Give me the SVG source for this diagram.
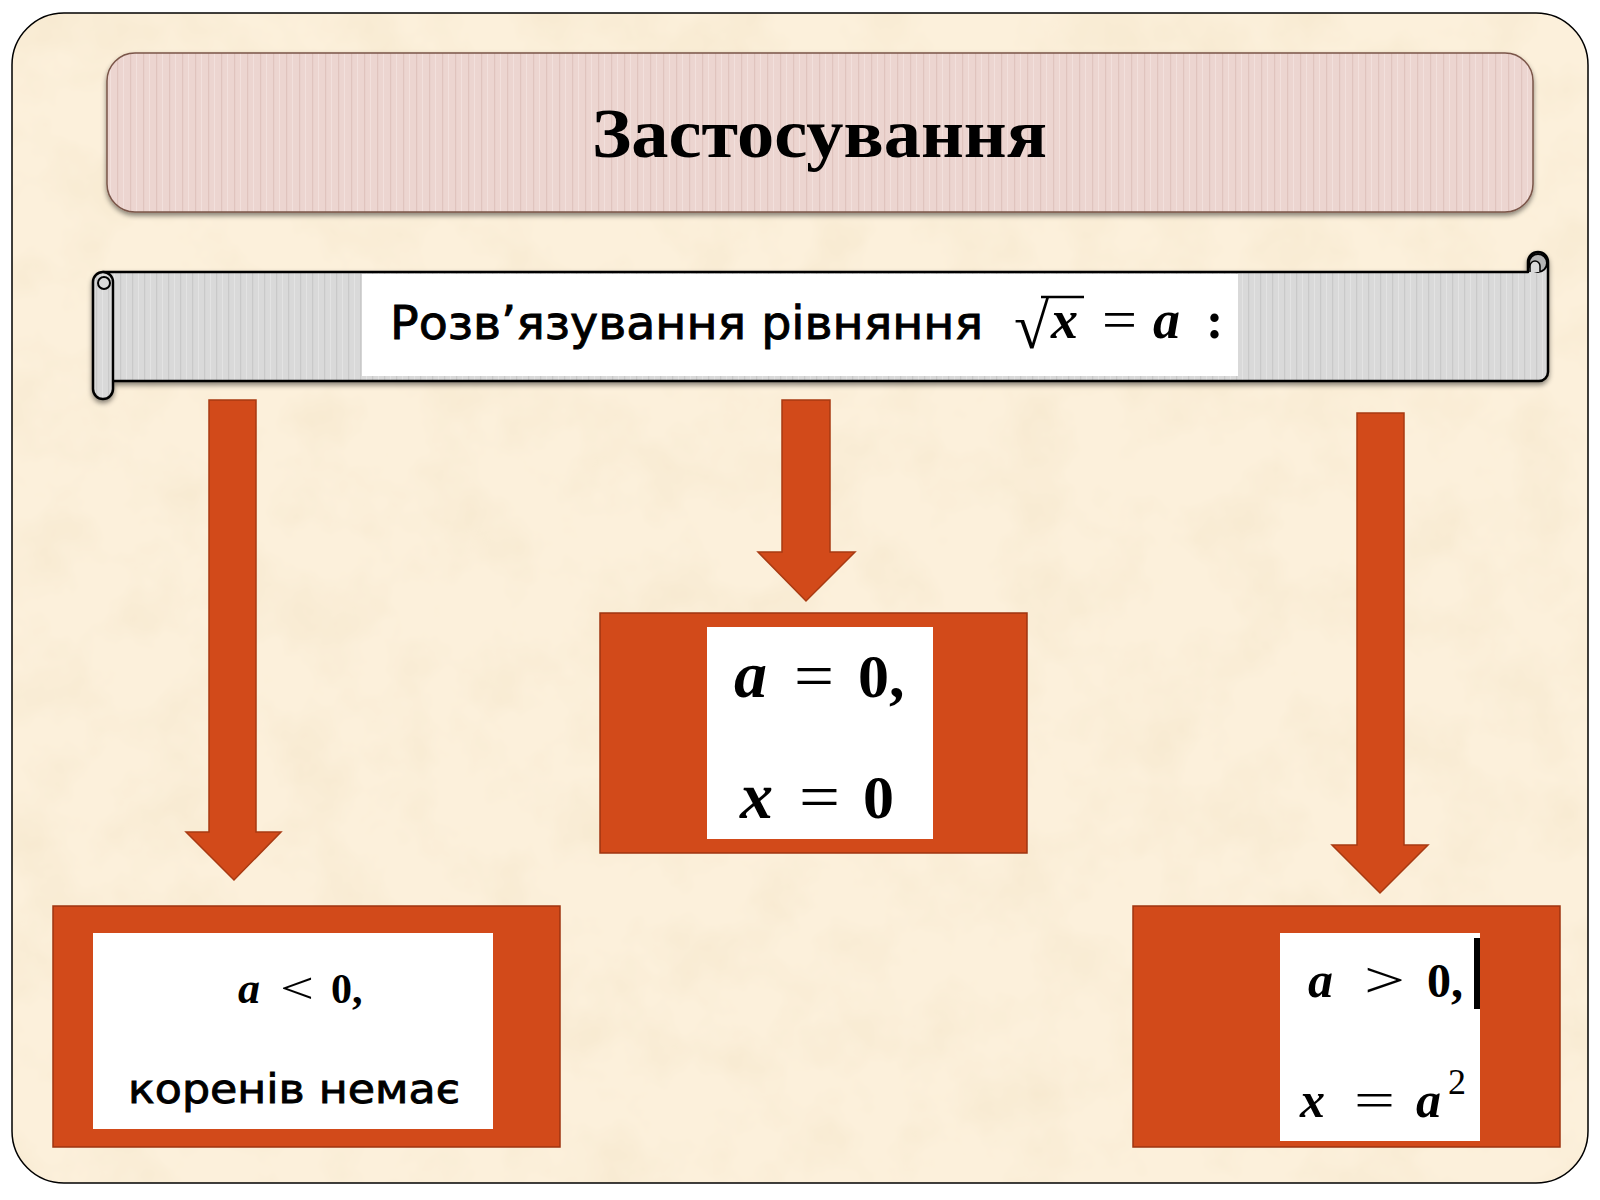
<svg xmlns="http://www.w3.org/2000/svg" width="1600" height="1200" viewBox="0 0 1600 1200">
<defs>
<style>
.math{font-family:"Liberation Serif","DejaVu Serif",serif;font-weight:bold;fill:#000}
.it{font-style:italic}
.op{font-weight:normal}
.cyr{font-family:"DejaVu Sans","Noto Sans",sans-serif;fill:#000;stroke:#000;stroke-width:0.9}
.box{fill:#d24a1a;stroke:#9e3510;stroke-width:1.5}
.white{fill:#ffffff}
.arrow{fill:#d24a1a;stroke:#a83a12;stroke-width:1.5}
.scroll{fill:url(#gstripe);stroke:#000;stroke-width:2.5;stroke-linejoin:round}
</style>
<pattern id="pstripe" width="13" height="20" patternUnits="userSpaceOnUse">
<rect width="13" height="20" fill="#ecd5d0"/>
<rect x="0" width="1.2" height="20" fill="#e0c4be"/>
<rect x="6" width="1" height="20" fill="#f2e0dc"/>
</pattern>
<pattern id="gstripe" width="12" height="20" patternUnits="userSpaceOnUse">
<rect width="12" height="20" fill="#d9d9d9"/>
<rect x="0" width="1.2" height="20" fill="#c9c9c9"/>
<rect x="6" width="1" height="20" fill="#e3e3e3"/>
</pattern>
<filter id="paper" x="0" y="0" width="100%" height="100%">
<feTurbulence type="fractalNoise" baseFrequency="0.014" numOctaves="4" seed="5"/>
<feColorMatrix type="matrix" values="0 0 0 0 0.9  0 0 0 0 0.78  0 0 0 0 0.58  1.1 0 0 0 -0.45"/>
</filter>
<filter id="shadow" x="-5%" y="-10%" width="110%" height="130%">
<feDropShadow dx="0" dy="3" stdDeviation="2.5" flood-color="#000" flood-opacity="0.45"/>
</filter>
<clipPath id="frameclip"><rect x="12" y="13" width="1576" height="1170" rx="52"/></clipPath>
</defs>
<rect width="1600" height="1200" fill="#ffffff"/>
<g id="frame">
<rect x="12" y="13" width="1576" height="1170" rx="52" fill="#fcf0db"/>
<g clip-path="url(#frameclip)"><rect x="12" y="13" width="1576" height="1170" filter="url(#paper)"/></g>
<rect x="12" y="13" width="1576" height="1170" rx="52" fill="none" stroke="#000" stroke-width="1.5"/>
</g>
<g id="title">
<rect x="107" y="53" width="1426" height="159" rx="28" fill="url(#pstripe)" stroke="#7a5548" stroke-width="1.5" filter="url(#shadow)"/>
<text x="592" y="157" font-family="Liberation Serif, DejaVu Serif, serif" font-weight="bold" font-size="70" fill="#000" textLength="455" lengthAdjust="spacingAndGlyphs">Застосування</text>
</g>
<g id="banner">
<g filter="url(#shadow)">
<path class="scroll" d="M103 272 H1528 V262 A10 10 0 0 1 1548 262 V372 A9 9 0 0 1 1539 381 H103 Z"/>
<rect class="scroll" x="93" y="272" width="20" height="127" rx="10"/>
</g>
<circle cx="104" cy="283" r="6" fill="#d9d9d9" stroke="#000" stroke-width="2"/>
<circle cx="1538" cy="263" r="9" fill="#b4b4b4" stroke="#000" stroke-width="2"/>
<path d="M1530 272 V266 A5 5 0 0 1 1540 266 V272" fill="#d9d9d9" stroke="#000" stroke-width="1.5"/>
<rect class="white" x="362" y="274" width="876" height="102"/>
<text class="cyr" x="390" y="339" font-size="47" textLength="593" lengthAdjust="spacingAndGlyphs">Розв’язування рівняння</text>
<text class="math op" x="1014" y="348" font-size="64">√</text>
<line x1="1041" y1="297" x2="1084" y2="297" stroke="#000" stroke-width="2.5"/>
<text class="math it" x="1051" y="338" font-size="54">x</text>
<text class="math op" x="1102" y="338" font-size="54" textLength="35" lengthAdjust="spacingAndGlyphs">=</text>
<text class="math it" x="1153" y="338" font-size="54">a</text>
<text class="math" x="1206" y="338" font-size="52">:</text>
</g>
<g id="connectors">
<polygon class="arrow" points="209,400 256,400 256,832 281,832 234,880 186,832 209,832"/>
<polygon class="arrow" points="782,400 830,400 830,552 855,552 806,601 758,552 782,552"/>
<polygon class="arrow" points="1357,413 1404,413 1404,845 1428,845 1380,893 1332,845 1357,845"/>
</g>
<g id="node-left">
<rect class="box" x="53" y="906" width="507" height="241"/>
<rect class="white" x="93" y="933" width="400" height="196"/>
<text class="math it" x="238" y="1003" font-size="44">a</text>
<text class="math op" x="280" y="1003" font-size="44" textLength="34" lengthAdjust="spacingAndGlyphs">&lt;</text>
<text class="math" x="331" y="1003" font-size="42">0,</text>
<text class="cyr" x="128" y="1103" font-size="41" textLength="332" lengthAdjust="spacingAndGlyphs">коренів немає</text>
</g>
<g id="node-middle">
<rect class="box" x="600" y="613" width="427" height="240"/>
<rect class="white" x="707" y="627" width="226" height="212"/>
<text class="math it" x="734" y="697" font-size="66">a</text>
<text class="math op" x="794" y="697" font-size="64" textLength="40" lengthAdjust="spacingAndGlyphs">=</text>
<text class="math" x="858" y="697" font-size="62">0,</text>
<text class="math it" x="740" y="818" font-size="66">x</text>
<text class="math op" x="799" y="818" font-size="64" textLength="41" lengthAdjust="spacingAndGlyphs">=</text>
<text class="math" x="863" y="818" font-size="62">0</text>
</g>
<g id="node-right">
<rect class="box" x="1133" y="906" width="427" height="241"/>
<rect class="white" x="1280" y="933" width="200" height="208"/>
<text class="math it" x="1308" y="997" font-size="50">a</text>
<text class="math op" x="1364" y="997" font-size="50" textLength="41" lengthAdjust="spacingAndGlyphs">&gt;</text>
<text class="math" x="1427" y="997" font-size="48">0,</text>
<rect x="1474" y="938" width="6" height="71" fill="#000"/>
<text class="math it" x="1300" y="1117" font-size="50">x</text>
<text class="math op" x="1354" y="1117" font-size="50" textLength="41" lengthAdjust="spacingAndGlyphs">=</text>
<text class="math it" x="1416" y="1117" font-size="50">a</text>
<text class="math op" x="1448" y="1094" font-size="36">2</text>
</g>
</svg>
